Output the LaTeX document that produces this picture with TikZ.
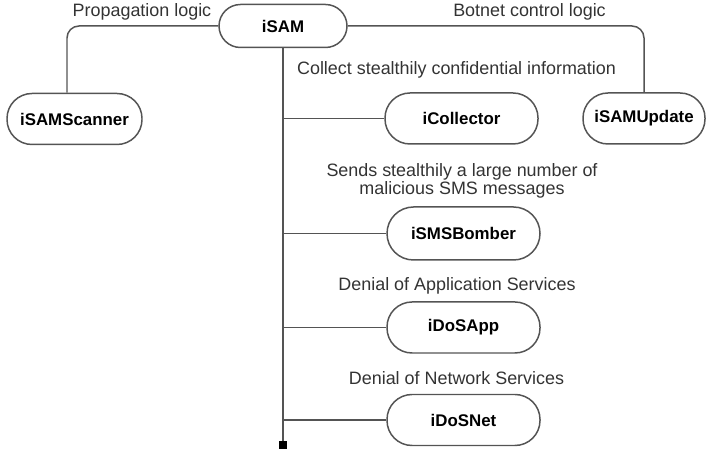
\documentclass[tikz,border=0pt]{standalone}
\usepackage{fontspec}
\setmainfont{Liberation Sans}
\usepackage{tikz}
\usetikzlibrary{shapes}
\usetikzlibrary{positioning}
\definecolor{linegray}{gray}{0.33}
\definecolor{textgray}{gray}{0.2}
\tikzstyle{module}=[draw=linegray,rounded corners=0.5cm,minimum width=3.06cm,minimum height=1.02cm,inner sep=0mm,font=\fontsize{9.6}{11}\selectfont\bfseries,text=black]
\tikzstyle{note}=[align=center,inner sep=0mm,font=\fontsize{10.2}{10.4}\selectfont,text=textgray]
\tikzstyle{tailbox}=[fill=black,inner sep=0mm,minimum size=0.16cm]
\tikzstyle{link}=[draw=linegray]
\tikzset{every picture/.style={
    line width=0.85pt
  }
}

\begin{document}
\begin{tikzpicture}
      \useasboundingbox (0,0) rectangle (14.12,9.04);
      \node[module,minimum width=2.56cm,minimum height=0.86cm,rounded corners=0.43cm] at (5.66,8.52) (isam) {iSAM};
      \node[module,minimum width=2.70cm] at (1.49,6.66) (scanner) {iSAMScanner};
      \node[module,minimum width=2.44cm] at (12.88,6.67) (update) {iSAMUpdate};
      \node[module] at (9.23,6.67) (collector) {iCollector};
      \node[module,minimum height=1.06cm,rounded corners=0.53cm] at (9.27,4.37) (bomber) {iSMSBomber};
      \node[module] at (9.27,2.49) (dosapp) {iDoSApp};
      \node[module] at (9.27,0.64) (dosnet) {iDoSNet};
      \node[tailbox] at (5.66,0.13) (tail) {};
      \node[note] at (2.84,8.80) (propag) {Propagation logic};
      \node[note] at (10.59,8.80) (botnet) {Botnet control logic};
      \node[note] at (9.13,7.64) (collect) {Collect stealthily confidential information};
      \node[note] at (9.24,5.42) (sends) {Sends stealthily a large number of\\malicious SMS messages};
      \node[note] at (9.14,3.32) (appserv) {Denial of Application Services};
      \node[note] at (9.13,1.48) (netserv) {Denial of Network Services};
      \draw[link,rounded corners=0.24cm] (isam.west) -| ([xshift=-0.15cm]scanner.north);
      \draw[link,rounded corners=0.24cm] (isam.east) -| (update.north);
      \draw[link] (isam.south) -- (tail.north);
      \draw[link] (collector.west) -- (collector.west -| tail);
      \draw[link] (bomber.west) -- (bomber.west -| tail);
      \draw[link] (dosapp.west) -- (dosapp.west -| tail);
      \draw[link] (dosnet.west) -- (dosnet.west -| tail);
    \end{tikzpicture}
\end{document}
